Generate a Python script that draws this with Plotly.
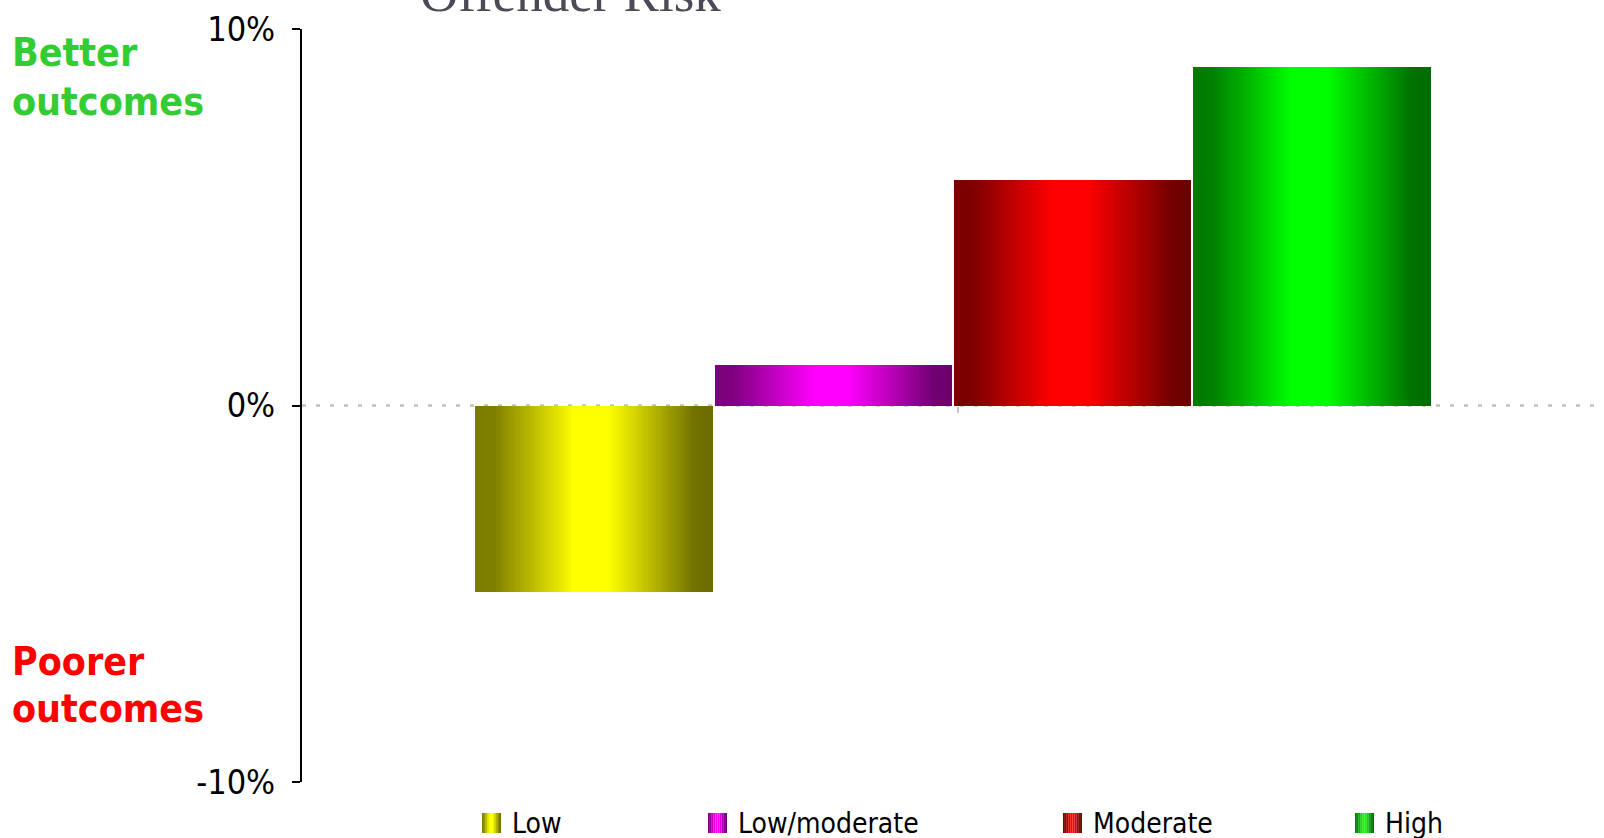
import numpy as np
import plotly.graph_objects as go

# ---------------- data ----------------
categories = ["Low", "Low/moderate", "Moderate", "High"]
values = [-4.95, 1.08, 6.0, 9.0]
tick_vals = [-10, 0, 10]
tick_text = ["-10%", "0%", "10%"]
title_text = "Offender Risk"

# ---------------- layout geometry ----------------
W, H = 1604, 838
ML, MR, MT, MB = 302, 0, 29, 56
PW, PH = W - ML - MR, H - MT - MB


def px2x(px):
    return (px - ML) / PW


def py2y(py):
    return (H - MB - py) / PH


base_colors = {
    "Low": (255, 255, 0),
    "Low/moderate": (255, 0, 255),
    "Moderate": (255, 0, 0),
    "High": (0, 255, 0),
}

# dark - bright - dark horizontal gradient profile (linear between stops)
stops = [(0.0, 0.48), (0.08, 0.50), (0.42, 1.0), (0.56, 1.0), (0.92, 0.45), (1.0, 0.42)]


def shade(t):
    for (t0, v0), (t1, v1) in zip(stops[:-1], stops[1:]):
        if t <= t1:
            u = (t - t0) / (t1 - t0)
            return v0 + (v1 - v0) * u
    return stops[-1][1]


def col(rgb, f):
    return "rgb(%d,%d,%d)" % tuple(int(round(c * f)) for c in rgb)


fig = go.Figure()

N = 80
group_w = 0.735
slot = group_w / len(categories)
gap_frac = 0.008
bar_w = slot * (1 - gap_frac)

for i, (cat, v) in enumerate(zip(categories, values)):
    left = 0.5 - group_w / 2 + i * slot + slot * gap_frac / 2
    sw = bar_w / N
    xs = [left + (k + 0.5) * sw for k in range(N)]
    colors = [col(base_colors[cat], shade((k + 0.5) / N)) for k in range(N)]
    fig.add_trace(go.Bar(
        x=xs, y=[v] * N, width=[sw] * N, name=cat,
        marker=dict(color=colors, line=dict(width=0)),
        showlegend=False, hoverinfo="skip",
    ))

# zero dotted line
fig.add_shape(type="line", xref="paper", yref="y", x0=0, x1=1, y0=0, y1=0,
              line=dict(color="#c0c0c0", width=2.5, dash="4px,10px"), layer="below")

annotations = []
shapes = []

# title (cut off at top)
annotations.append(dict(text=title_text, xref="paper", yref="paper",
                        x=px2x(570), y=py2y(24), xanchor="center", yanchor="bottom",
                        showarrow=False,
                        font=dict(family="Liberation Serif, DejaVu Serif, serif", size=53, color="#4b4b57")))

# side labels (one annotation per line)
side_font = "DejaVu Sans Condensed, DejaVu Sans, sans-serif"
for txt, cy, colr in [("Better", 53, "#33cc33"), ("outcomes", 101, "#33cc33"),
                      ("Poorer", 661, "#ff0000"), ("outcomes", 708, "#ff0000")]:
    annotations.append(dict(text=txt, xref="paper", yref="paper",
                            x=px2x(10), y=py2y(cy), xanchor="left", yanchor="middle",
                            showarrow=False,
                            font=dict(family=side_font, size=39, color=colr, weight="bold")))

# manual legend
legend_px = [482, 708, 1063, 1355]
for cat, lx in zip(categories, legend_px):
    nst = 10
    for k in range(nst):
        shapes.append(dict(type="rect", xref="paper", yref="paper",
                           x0=px2x(lx + 19 * k / nst), x1=px2x(lx + 19 * (k + 1) / nst),
                           y0=py2y(833), y1=py2y(813),
                           line=dict(width=0),
                           fillcolor=col(base_colors[cat], shade((k + 0.5) / nst))))
    annotations.append(dict(text=cat, xref="paper", yref="paper",
                            x=px2x(lx + 28), y=py2y(823), xanchor="left", yanchor="middle",
                            showarrow=False,
                            font=dict(family="DejaVu Sans Condensed, DejaVu Sans, sans-serif", size=28, color="black")))

fig.update_layout(
    width=W, height=H, autosize=False,
    margin=dict(l=ML, r=MR, t=MT, b=MB, pad=0),
    paper_bgcolor="white", plot_bgcolor="white",
    barmode="overlay", bargap=0,
    showlegend=False, hovermode=False,
    annotations=annotations,
    shapes=list(fig.layout.shapes) + shapes,
    xaxis=dict(range=[0, 1], showgrid=False, zeroline=False, showline=False,
               showticklabels=False, ticks="outside", tickvals=[0.504], ticklen=6,
               tickcolor="#c4c4c4", tickwidth=2, anchor="free", position=0.5, fixedrange=True),
    yaxis=dict(range=[-10, 10], showgrid=False, zeroline=False, showline=True,
               linecolor="black", linewidth=2, ticks="outside", ticklen=8, tickwidth=2,
               tickcolor="black", tickvals=tick_vals, ticktext=tick_text,
               ticklabelstandoff=10,
               tickfont=dict(family="DejaVu Sans Condensed, DejaVu Sans, sans-serif", size=34, color="black"),
               fixedrange=True),
)

fig.write_html("out.html")
